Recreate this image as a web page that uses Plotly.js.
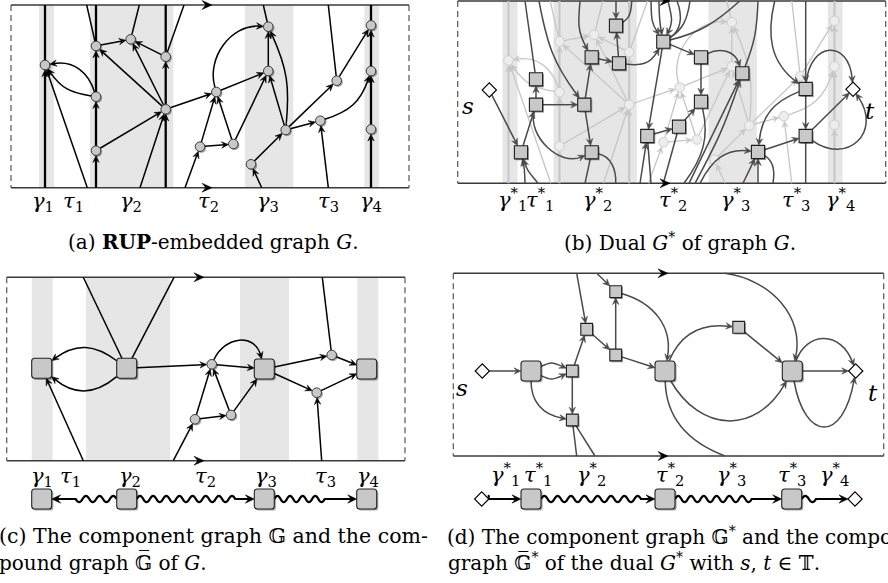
<!DOCTYPE html>
<html><head><meta charset="utf-8">
<script src="https://cdn.plot.ly/plotly-3.0.1.min.js"></script>
<style>html,body{margin:0;padding:0;background:#fff}#chart{width:888px;height:583px}</style>
</head><body><div id="chart"></div>
<script>
// ================= DATA =================
// Panel (a): RUP-embedded graph G
const aNodeX = [45, 96, 130.7, 165.7, 96, 165.7, 96, 216.3, 200, 268.3, 268.3, 233.3, 285.7, 251, 320.3, 336.7, 371, 371, 371];
const aNodeY = [65, 46, 39.3, 56.7, 96.7, 109.3, 150.7, 92, 146.7, 26.7, 71, 144, 130, 164.3, 120.7, 80.7, 25.3, 71, 129.3];
const aTopX = [45, 96, 86.7, 139.3, 165.7, 184, 263.3, 328.3, 371];
const aBotX = [87.3, 45, 96, 165.7, 140, 185, 261.7, 328.3, 371];
// edges: [from, to, bendDeg, looseness, arrow, gammaLine]
const aEdges = [
  ['B0',0,0,1,1,0],['B1',0,0,1,1,1],[0,'T0',0,1,0,1],[4,0,41,1,1,0],[4,0,-23,1,1,0],
  ['B2',6,0,1,1,1],[6,4,0,1,1,1],[4,1,0,1,1,1],[1,'T1',0,1,0,1],[1,'T2',0,1,0,0],
  [1,2,0,1,1,0],[3,2,0,1,1,0],[2,'T3',0,1,0,0],[3,'T5',0,1,0,0],[5,1,0,1,1,0],[5,2,0,1,1,0],
  ['B3',5,0,1,1,1],[5,3,0,1,1,1],[3,'T4',0,1,0,1],[6,5,0,1,1,0],['B4',5,0,1,1,0],[5,7,0,1,1,0],
  ['B5',8,0,1,1,0],[8,7,0,1,1,0],[8,11,0,1,1,0],[11,7,0,1,1,0],[11,10,0,1,1,0],[7,10,0,1,1,0],
  [7,9,-55,1,1,0],[10,9,0,1,1,0],[9,'T6',0,1,0,0],[12,10,0,1,1,0],[12,9,15,1,1,0],[13,12,0,1,1,0],
  ['B6',13,0,1,1,0],[12,14,0,1,1,0],[12,15,0,1,1,0],[15,'T7',0,1,0,0],[15,16,0,1,1,0],
  [14,17,27,1,1,0],['B7',14,0,1,1,0],['B8',18,0,1,1,1],[18,17,0,1,1,1],[17,16,0,1,1,1],[16,'T8',0,1,0,1]
];
const aBands = [[39,54],[90,173.3],[245,293.3],[364.3,379]];

// Panel (b): dual G*
const bNodeX = [521, 536, 536, 584.3, 591.7, 591.7, 619, 616, 663.3, 647.3, 679, 701, 701, 742.3, 758, 805.7, 805.7];
const bNodeY = [152.3, 79.3, 104.7, 104.7, 152.3, 57.3, 63.3, 25.7, 41.7, 136, 126.7, 57.3, 101.7, 73.3, 152, 89, 136];
const bTermX = [489.3, 853];
const bTermY = [90, 89.3];
const bTopX = [525, 539, 580, 616, 631.7, 651, 659, 668, 677, 690, 739.7, 758, 774.7, 805.7];
const bBotX = [525, 538, 585, 615.7, 640, 651, 663.3, 684, 689, 695, 700, 743, 758, 773, 805.7];
const bEdges = [
  ['s',0,0,1,1],['B0',0,5,1,1],['B1',0,-10,1,1],[0,2,0,1,1],[2,1,0,1,1],[1,'T0',0,1,0],
  [2,3,0,1,1],['T1',3,13,1,1],[3,5,0,1,1],[3,4,0,1,1],[2,4,65,1,1],[4,'B2',0,1,0],[4,'B3',-40,1,0],
  [5,6,0,1,1],[6,7,0,1,1],['T2',5,17,1,1],['T3',7,0,1,1],[7,'T4',30,1,0],[6,8,33,1,1],
  ['T5',8,15,1,1],['T6',8,5,1,1],['T7',8,-20,1,1],[8,'T8',40,1,0],[8,'T9',25,1,0],[8,'T10',14,1,0],
  [8,9,0,1,1],[8,11,0,1,1],[11,12,0,1,1],[11,13,-50,1,1],[9,10,0,1,1],[10,12,0,1,1],
  ['B4',9,0,1,1],[9,'B5',0,1,0],[10,'B6',0,1,0],[12,'B7',-25,1,0],['B8',13,0,1,1],['B9',13,5,1,1],
  ['B10',14,-35,1,1],['B11',14,0,1,1],['B12',14,0,1,1],[14,'B13',-35,1,0],[15,14,31,1,1],
  [14,16,0,1,1],[15,16,0,1,1],['T13',15,0,1,1],['T12',15,33,1,1],[13,'T11',10,1,0],
  [15,'t',-85,2.4,1],[16,'t',0,1,1],[16,'t',80,1.8,1],[16,'B14',0,1,0]
];

// Panel (c): component graph
const cNodeX = [41.7, 126.7, 211.7, 195, 231, 264.3, 331.7, 316.7, 366.7];
const cNodeY = [368.3, 368.3, 364.3, 419.3, 415, 369, 355, 392.7, 369];
const cKinds = ['S','S','c','c','c','S','c','c','S'];
const cTopX = [83.3, 174, 322.3];
const cBotX = [83.3, 173.3, 321.7];
const cEdges = [
  [1,0,37,1,1],[1,0,-40,1,1],['B0',0,0,1,1],[1,'T0',0,1,0],[1,'T1',0,1,0],[1,2,0,1,1],
  [2,5,0,1,1],[2,5,-70,1.4,1],[3,2,0,1,1],['B1',3,0,1,1],[3,4,0,1,1],[4,2,0,1,1],[4,5,0,1,1],
  [5,6,0,1,1],[5,7,0,1,1],[6,8,0,1,1],[7,8,0,1,1],[6,'T2',0,1,0],['B2',7,0,1,1]
];
const cBands = [[31.7,52.7],[86,170],[240,289],[357.3,378.3]];
const cCompX = [41.7, 126.7, 264.3, 366.7];
const cCompEdges = [[1,0],[1,2],[2,3]];

// Panel (d): component graph of the dual
const dNodeX = [531, 572.3, 586.7, 615.7, 615.7, 572.3, 665, 738.7, 792.3];
const dNodeY = [371, 371, 329.3, 291.7, 355, 420, 371, 327.3, 371];
const dKinds = ['S','q','q','q','q','q','S','q','S'];
const dTermX = [482.3, 855.7];
const dTermY = [371, 371];
const dTopX = [576.7, 596.7, 724.7];
const dBotX = [576.7, 595, 725];
const dEdges = [
  ['s',0,0,1,1],[0,1,-25,1,1],[0,1,25,1,1],[0,5,40,1,1],[1,5,0,1,1],[1,2,0,1,1],[2,4,0,1,1],
  [4,3,0,1,1],['T0',2,0,1,1],['T1',3,0,1,1],[3,6,-42,1,1],[4,6,0,1,1],[5,'B0',0,1,0],[5,'B1',0,1,0],
  [6,7,-37,1,1],[7,8,0,1,1],[6,8,60,1.3,1],[6,'B2',34,1,0],['T2',8,-48,1,1],
  [8,'t',0,1,1],[8,'t',-70,1.5,1],[8,'t',80,2.7,1]
];
const dCompX = [481.7, 531, 665, 791.7, 855];
const dCompKinds = ['d','S','S','S','d'];
const dCompEdges = [[0,1],[1,2],[2,3],[3,4]];

// axis labels
const labelSym = ['γ','τ','γ','τ','γ','τ','γ'];
const labelIdx = ['1','1','2','2','3','3','4'];
const aLabelX = [43, 73, 131, 208, 268, 328, 371];
const bLabelX = [512, 540, 597, 673, 735, 796, 840];
const cLabelX = [42, 70, 130, 205, 266, 325, 368];
const dLabelX = [505, 538, 591, 670, 731, 792, 834];

// ================= DRAWING =================
const HALF = {c:4.8, s:6.6, q:5.9, S:10, d:7};
const SERIF = 'DejaVu Serif';
const shapes = [];
const traces = [];
const ann = [];

function resolve(P, ref) {
  if (typeof ref === 'number') return {x:P.x[ref], y:P.y[ref], k:P.k[ref]};
  if (ref === 's') return {x:P.termX[0], y:P.termY[0], k:'d'};
  if (ref === 't') return {x:P.termX[1], y:P.termY[1], k:'d'};
  const i = +ref.slice(1);
  if (ref[0] === 'T') return {x:P.topX[i], y:P.topY, k:null};
  return {x:P.botX[i], y:P.botY, k:null};
}
function boundary(k, ux, uy) {
  if (!k) return 0;
  const h = HALF[k];
  if (k === 'c') return h;
  if (k === 'd') return h / (Math.abs(ux) + Math.abs(uy));
  return h / Math.max(Math.abs(ux), Math.abs(uy));
}
function arrowHead(tx, ty, wx, wy, col, AL, AW, layer) {
  const nx = -wy, ny = wx;
  const bx = tx - AL*wx, by = ty - AL*wy;
  const mx = tx - AL*0.62*wx, my = ty - AL*0.62*wy;
  shapes.push({type:'path', xref:'x', yref:'y', layer: layer || 'below',
    path:`M${tx},${ty} L${bx+AW*nx},${by+AW*ny} L${mx},${my} L${bx-AW*nx},${by-AW*ny} Z`,
    fillcolor:col, line:{color:col, width:0.5}});
}
function drawEdges(P, edges, col, w, wThick, AL, AW) {
  edges.forEach(e => {
    const [a, b, bend, loose, arrow, thick] = e;
    const A = resolve(P, a), B = resolve(P, b);
    const dx = B.x - A.x, dy = B.y - A.y;
    const L = Math.hypot(dx, dy), ux = dx/L, uy = dy/L;
    const nx = -uy, ny = ux;
    const th = (bend || 0) * Math.PI / 180, d = 0.3915 * L * (loose || 1);
    const c = Math.cos(th), s = Math.sin(th);
    const v1x = ux*c + nx*s, v1y = uy*c + ny*s;
    const wx = ux*c - nx*s, wy = uy*c - ny*s;
    const sA = boundary(A.k, v1x, v1y);
    const x0 = A.x + sA*v1x, y0 = A.y + sA*v1y;
    const sB = boundary(B.k, wx, wy);
    const tx = B.x - sB*wx, ty = B.y - sB*wy;
    const back = arrow ? AL*0.55 : 0;
    const ex = tx - back*wx, ey = ty - back*wy;
    const c1x = A.x + d*v1x + (x0 - A.x)*0.5, c1y = A.y + d*v1y + (y0 - A.y)*0.5;
    const c2x = B.x - d*wx + (ex - B.x)*0.6, c2y = B.y - d*wy + (ey - B.y)*0.6;
    const path = bend ? `M${x0},${y0} C${c1x},${c1y} ${c2x},${c2y} ${ex},${ey}` : `M${x0},${y0} L${ex},${ey}`;
    shapes.push({type:'path', xref:'x', yref:'y', layer:'below', path, line:{color:col, width: thick ? wThick : w}});
    if (arrow) arrowHead(tx, ty, wx, wy, col, AL, AW);
  });
}
function drawFrame(x0, x1, yt, yb, ax) {
  [yt, yb].forEach(y => {
    shapes.push({type:'line', xref:'x', yref:'y', layer:'below', x0:x0, x1:x1, y0:y, y1:y, line:{color:'#3a3a3a', width:1.4}});
    arrowHead(ax + 5, y, 1, 0, '#000', 10, 4.5, 'above');
  });
  [x0, x1].forEach(x => {
    shapes.push({type:'line', xref:'x', yref:'y', layer:'below', x0:x, x1:x, y0:yt, y1:yb, line:{color:'#555', width:1.2, dash:'6px,4px'}});
  });
}
function drawBands(bands, shift, yt, yb) {
  bands.forEach(bd => shapes.push({type:'rect', xref:'x', yref:'y', layer:'below',
    x0:bd[0]+shift, x1:bd[1]+shift, y0:yt, y1:yb, fillcolor:'#e6e6e6', line:{width:0}}));
}
function rrect(cx, cy, h, r) {
  const x0=cx-h, x1=cx+h, y0=cy-h, y1=cy+h;
  return `M${x0+r},${y0} L${x1-r},${y0} Q${x1},${y0} ${x1},${y0+r} L${x1},${y1-r} Q${x1},${y1} ${x1-r},${y1} L${x0+r},${y1} Q${x0},${y1} ${x0},${y1-r} L${x0},${y0+r} Q${x0},${y0} ${x0+r},${y0} Z`;
}
function bigSquares(xs, ys) {
  xs.forEach((x, i) => {
    shapes.push({type:'path', xref:'x', yref:'y', layer:'above', path: rrect(x+1.6, ys[i]+1.6, 10, 3), fillcolor:'rgba(0,0,0,0.35)', line:{width:0}});
    shapes.push({type:'path', xref:'x', yref:'y', layer:'above', path: rrect(x, ys[i], 10, 3), fillcolor:'#c8c8c8', line:{color:'#222', width:1.1}});
  });
}
function nodeTrace(xs, ys, symbol, size, fill, lc, lw, shadow) {
  if (shadow) traces.push({type:'scatter', mode:'markers', hoverinfo:'skip',
    x: xs.map(v => v + 1.4), y: ys.map(v => v + 1.4),
    marker:{symbol, size, color:'rgba(0,0,0,0.35)', line:{width:0}}});
  traces.push({type:'scatter', mode:'markers', hoverinfo:'skip', x: xs, y: ys,
    marker:{symbol, size, color: fill, line:{color: lc, width: lw}}});
}
function wavy(x0, xs, x1, y, amp, wl) {
  let p = `M${x0},${y}`;
  const n = Math.max(1, Math.round(Math.abs(xs - x0) / (wl / 2)));
  const seg = (xs - x0) / n;
  for (let i = 0; i < n; i++) {
    const cx = x0 + seg*(i + 0.5), cy = y + (i % 2 ? amp : -amp) * 2;
    p += ` Q${cx},${cy} ${x0 + seg*(i + 1)},${y}`;
  }
  p += ` L${x1},${y}`;
  return p;
}
function compoundRow(xs, kinds, edges, straight, y) {
  edges.forEach((e, i) => {
    const xa = xs[e[0]], xb = xs[e[1]];
    const dir = Math.sign(xb - xa);
    const x0 = xa + dir*HALF[kinds[e[0]]], tip = xb - dir*HALF[kinds[e[1]]];
    const x1 = tip - dir*5;
    const xsw = straight[i] === 0 ? x0 : tip - dir*straight[i];
    shapes.push({type:'path', xref:'x', yref:'y', layer:'below', path: wavy(x0, xsw, x1, y, 3.2, 13), line:{color:'#000', width:2.2}});
    arrowHead(tip, y, dir, 0, '#000', 9, 4.2);
  });
}
function labels(xs, y, star) {
  xs.forEach((x, i) => {
    const t = star ? `<i>${labelSym[i]}</i><sup>*</sup><sub>${labelIdx[i]}</sub>` : `<i>${labelSym[i]}</i><sub>${labelIdx[i]}</sub>`;
    ann.push({x, y, xref:'x', yref:'y', showarrow:false, xanchor:'center', yanchor:'middle',
      text: t, font:{family:SERIF, size:21, color:'#000'}});
  });
}
function txt(x, y, text, size, anchor, xshift) {
  ann.push({x, y, xref:'x', yref:'y', showarrow:false, xanchor: anchor || 'center', yanchor:'middle', xshift: xshift || 0,
    text, font:{family:SERIF, size, color:'#000'}});
}

// ---- panel (a)
const PA = {x:aNodeX, y:aNodeY, k:aNodeX.map(() => 'c'), topX:aTopX, botX:aBotX, topY:5, botY:187.7};
drawBands(aBands, 0, 5, 187.7);
drawFrame(11, 409, 5, 187.7, 207);
drawEdges(PA, aEdges, '#000', 1.5, 2.3, 7, 3.2);
nodeTrace(aNodeX, aNodeY, 'circle', 9.6, '#c8c8c8', '#2a2a2a', 0.9, true);
labels(aLabelX, 202, false);

// ---- panel (b): light primal underneath, then dual
const SHX = 463.5, SHY = -4.5;
const PBp = {x:aNodeX.map(v => v + SHX), y:aNodeY.map(v => v + SHY), k:aNodeX.map(() => 'c'),
  topX:aTopX.map(v => v + SHX), botX:aBotX.map(v => v + SHX), topY:1, botY:183.3};
drawBands(aBands, SHX, 1, 183.3);
drawFrame(457.7, 885.7, 1, 183.3, 665);
drawEdges(PBp, aEdges, '#c6c6c6', 1.3, 2.1, 6.5, 3);
PBp.x.forEach((x, i) => shapes.push({type:'circle', xref:'x', yref:'y', layer:'below',
  x0:x-4.8, x1:x+4.8, y0:PBp.y[i]-4.8, y1:PBp.y[i]+4.8, fillcolor:'#ededed', line:{color:'#c8c8c8', width:0.9}}));
const PB = {x:bNodeX, y:bNodeY, k:bNodeX.map(() => 's'), termX:bTermX, termY:bTermY, topX:bTopX, botX:bBotX, topY:1, botY:183.3};
drawEdges(PB, bEdges, '#4a4a4a', 1.5, 1.5, 7, 3.2);
nodeTrace(bNodeX, bNodeY, 'square', 13.2, '#c8c8c8', '#1e1e1e', 1.1, true);
nodeTrace(bTermX, bTermY, 'diamond', 11, '#fff', '#000', 1.1, false);
labels(bLabelX, 199, true);
txt(bTermX[0] - 21, 106, '<i>s</i>', 23);
txt(bTermX[1] + 17, 111, '<i>t</i>', 23);

// ---- panel (c)
const PC = {x:cNodeX, y:cNodeY, k:cKinds, topX:cTopX, botX:cBotX, topY:277.3, botY:460.7};
drawBands(cBands, 0, 277.3, 460.7);
drawFrame(6.7, 405, 277.3, 460.7, 199);
drawEdges(PC, cEdges, '#000', 1.5, 1.5, 7, 3.2);
const cSmall = cKinds.map((k, i) => k === 'c' ? i : -1).filter(i => i >= 0);
const cBig = cKinds.map((k, i) => k === 'S' ? i : -1).filter(i => i >= 0);
nodeTrace(cSmall.map(i => cNodeX[i]), cSmall.map(i => cNodeY[i]), 'circle', 9.6, '#c8c8c8', '#2a2a2a', 0.9, true);
bigSquares(cBig.map(i => cNodeX[i]), cBig.map(i => cNodeY[i]));
labels(cLabelX, 477, false);
compoundRow(cCompX, ['S','S','S','S'], cCompEdges, [24, 19, 32], 499);
bigSquares(cCompX, cCompX.map(() => 499));

// ---- panel (d)
const PD = {x:dNodeX, y:dNodeY, k:dKinds, termX:dTermX, termY:dTermY, topX:dTopX, botX:dBotX, topY:273.3, botY:456};
drawFrame(453.3, 883.7, 273.3, 456, 663);
drawEdges(PD, dEdges, '#4a4a4a', 1.5, 1.5, 7, 3.2);
const dSmall = dKinds.map((k, i) => k === 'q' ? i : -1).filter(i => i >= 0);
const dBig = dKinds.map((k, i) => k === 'S' ? i : -1).filter(i => i >= 0);
nodeTrace(dSmall.map(i => dNodeX[i]), dSmall.map(i => dNodeY[i]), 'square', 11.8, '#c8c8c8', '#1e1e1e', 1.1, true);
bigSquares(dBig.map(i => dNodeX[i]), dBig.map(i => dNodeY[i]));
nodeTrace(dTermX, dTermY, 'diamond', 11, '#fff', '#000', 1.1, false);
labels(dLabelX, 474, true);
txt(dTermX[0] - 20, 388, '<i>s</i>', 23);
txt(dTermX[1] + 17, 393, '<i>t</i>', 23);
compoundRow(dCompX, dCompKinds, dCompEdges, [0, 14, 30, 32], 499);
const dCompSq = dCompKinds.map((k, i) => k === 'S' ? i : -1).filter(i => i >= 0);
bigSquares(dCompSq.map(i => dCompX[i]), dCompSq.map(() => 499));
const dCompDi = dCompKinds.map((k, i) => k === 'd' ? i : -1).filter(i => i >= 0);
nodeTrace(dCompDi.map(i => dCompX[i]), dCompDi.map(() => 499), 'diamond', 11, '#fff', '#000', 1.1, false);

// ---- captions
txt(213, 242, '(a) <b>RUP</b>-embedded graph <i>G</i>.', 20);
txt(680, 242, '(b) Dual <i>G</i><sup>*</sup> of graph <i>G</i>.', 20);
txt(0, 536, '(c) The component graph 𝔾 and the com-', 20.5, 'left', -3);
txt(0, 562, 'pound graph 𝔾\u0305 of <i>G</i>.', 20, 'left', -3);
txt(445, 536, '(d) The component graph 𝔾<sup>*</sup> and the compound', 20, 'left', 0);
txt(446, 562, 'graph 𝔾\u0305<sup>*</sup> of the dual <i>G</i><sup>*</sup> with <i>s</i>, <i>t</i> ∈ 𝕋.', 20, 'left', 0);

const layout = {
  width: 888, height: 583, margin: {l:0, r:0, t:0, b:0},
  paper_bgcolor: '#fff', plot_bgcolor: '#fff', showlegend: false,
  xaxis: {range: [0, 888], visible: false, fixedrange: true},
  yaxis: {range: [583, 0], visible: false, fixedrange: true},
  shapes, annotations: ann
};
Plotly.newPlot('chart', traces, layout, {staticPlot: true, displayModeBar: false});
</script>
</body></html>
